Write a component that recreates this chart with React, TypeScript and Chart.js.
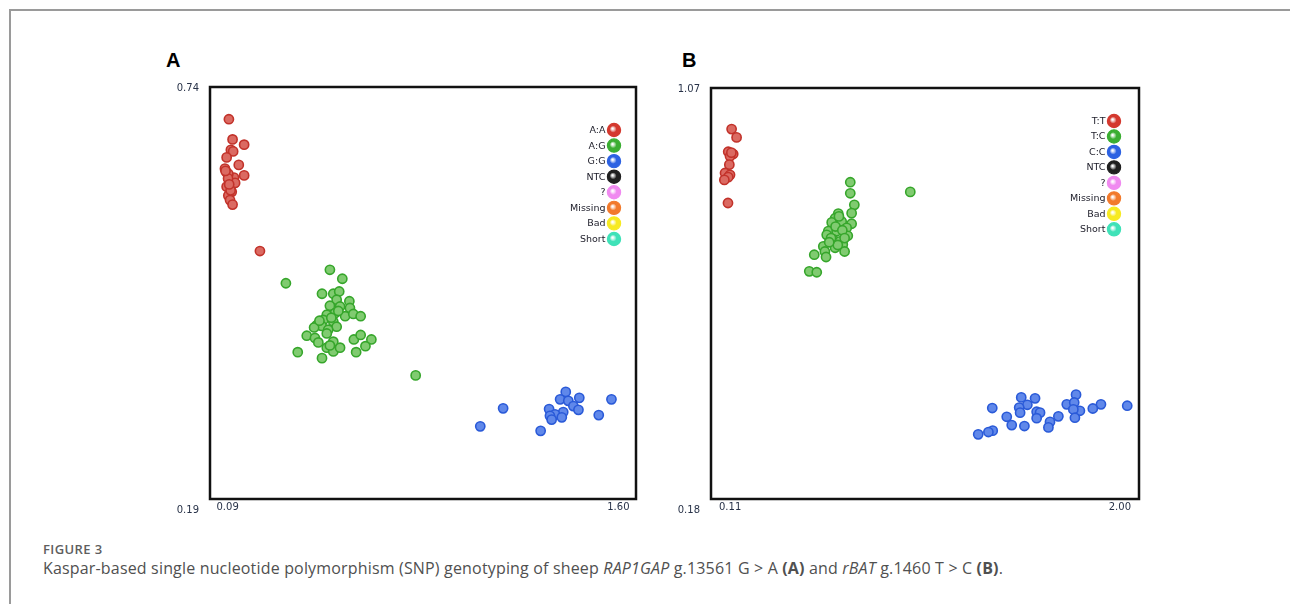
import React, { useEffect, useRef } from "react";
import { Chart, registerables } from "chart.js";

Chart.register(...registerables);

// ---------- Panel A: RAP1GAP g.13561 G > A ----------
const aXRange = [0.09, 1.6];
const aYRange = [0.19, 0.74];
const aXTickLabels = ["0.09", "1.60"];
const aYTickLabels = ["0.19", "0.74"];
const aLegendLabels = ["A:A", "A:G", "G:G", "NTC", "?", "Missing", "Bad", "Short"];

const aAA: [number, number][] = [
  [0.157, 0.697], [0.17, 0.67], [0.211, 0.663], [0.164, 0.656], [0.172, 0.654],
  [0.149, 0.646], [0.192, 0.636], [0.143, 0.631], [0.149, 0.626], [0.211, 0.622],
  [0.175, 0.619], [0.179, 0.612], [0.149, 0.607], [0.167, 0.6], [0.155, 0.595],
  [0.161, 0.589], [0.17, 0.583], [0.155, 0.624], [0.163, 0.602], [0.154, 0.618],
  [0.145, 0.628], [0.158, 0.61], [0.267, 0.521],
];
const aAG: [number, number][] = [
  [0.515, 0.496], [0.559, 0.484], [0.359, 0.478], [0.487, 0.464], [0.527, 0.464],
  [0.548, 0.467], [0.539, 0.456], [0.584, 0.454], [0.515, 0.448], [0.551, 0.447],
  [0.586, 0.445], [0.533, 0.438], [0.504, 0.436], [0.569, 0.434], [0.598, 0.437],
  [0.624, 0.434], [0.492, 0.429], [0.527, 0.427], [0.468, 0.422], [0.486, 0.421],
  [0.539, 0.42], [0.459, 0.419], [0.509, 0.416], [0.433, 0.408], [0.504, 0.411],
  [0.462, 0.405], [0.474, 0.399], [0.6, 0.403], [0.624, 0.409], [0.662, 0.403],
  [0.641, 0.394], [0.527, 0.4], [0.504, 0.392], [0.527, 0.387], [0.551, 0.392],
  [0.608, 0.386], [0.401, 0.386], [0.487, 0.378], [0.52, 0.432], [0.545, 0.441],
  [0.478, 0.428], [0.515, 0.395], [0.819, 0.355],
];
const aGG: [number, number][] = [
  [1.351, 0.333], [1.399, 0.325], [1.331, 0.323], [1.36, 0.321], [1.513, 0.323],
  [1.378, 0.314], [1.396, 0.309], [1.292, 0.31], [1.129, 0.311], [1.342, 0.306],
  [1.313, 0.303], [1.295, 0.301], [1.337, 0.299], [1.468, 0.302], [1.048, 0.287],
  [1.262, 0.281], [1.301, 0.296],
];

// ---------- Panel B: rBAT g.1460 T > C ----------
const bXRange = [0.11, 2.0];
const bYRange = [0.18, 1.07];
const bXTickLabels = ["0.11", "2.00"];
const bYTickLabels = ["0.18", "1.07"];
const bLegendLabels = ["T:T", "T:C", "C:C", "NTC", "?", "Missing", "Bad", "Short"];

const bTT: [number, number][] = [
  [0.201, 0.981], [0.223, 0.963], [0.186, 0.932], [0.208, 0.927], [0.194, 0.922],
  [0.191, 0.904], [0.172, 0.886], [0.194, 0.882], [0.186, 0.877], [0.169, 0.871],
  [0.2, 0.93], [0.185, 0.821],
];
const bTC: [number, number][] = [
  [0.725, 0.866], [0.725, 0.842], [0.99, 0.845], [0.743, 0.817], [0.731, 0.799],
  [0.672, 0.798], [0.658, 0.788], [0.687, 0.781], [0.731, 0.776], [0.643, 0.779],
  [0.709, 0.767], [0.628, 0.76], [0.665, 0.76], [0.621, 0.752], [0.714, 0.75],
  [0.65, 0.742], [0.68, 0.738], [0.606, 0.727], [0.658, 0.724], [0.692, 0.731],
  [0.613, 0.716], [0.7, 0.716], [0.566, 0.709], [0.618, 0.704], [0.66, 0.77],
  [0.69, 0.762], [0.64, 0.745], [0.7, 0.745], [0.67, 0.73], [0.632, 0.736],
  [0.675, 0.792], [0.544, 0.673], [0.577, 0.671],
];
const bCC: [number, number][] = [
  [1.48, 0.4], [1.541, 0.398], [1.722, 0.406], [1.507, 0.384], [1.681, 0.385],
  [1.714, 0.389], [1.832, 0.385], [1.948, 0.382], [1.352, 0.377], [1.471, 0.378],
  [1.796, 0.376], [1.548, 0.369], [1.563, 0.367], [1.475, 0.367], [1.739, 0.371],
  [1.71, 0.374], [1.644, 0.359], [1.416, 0.358], [1.548, 0.355], [1.717, 0.356],
  [1.607, 0.347], [1.438, 0.34], [1.494, 0.338], [1.6, 0.335], [1.354, 0.328],
  [1.335, 0.325], [1.29, 0.32],
];

// legend swatch colours (shared)
const legendColors = ["#d4392f", "#3bae32", "#2d62e2", "#202020", "#f08af0", "#f27a2c", "#f7ea22", "#3fe2b8"];
const pointFills = ["#db6a62", "#80cb70", "#6088ea"];
const pointBorders = ["#c2322a", "#36a62b", "#2a5ad8"];

const kaspPlugin = {
  id: "kaspFrame",
  afterDatasetsDraw(chart: any, _args: any, opts: any) {
    const { ctx, chartArea: a, scales } = chart;
    const xs = scales.x;
    const ys = scales.y;
    ctx.save();
    // frame
    ctx.strokeStyle = "#111";
    ctx.lineWidth = 2.5;
    ctx.strokeRect(a.left, a.top, a.right - a.left, a.bottom - a.top);
    // tick labels
    ctx.font = "10px 'DejaVu Sans'";
    ctx.fillStyle = "#283248";
    ctx.textBaseline = "middle";
    ctx.textAlign = "right";
    ctx.fillText(opts.yLabels[1], a.left - 11, ys.getPixelForValue(ys.max) + 1);
    ctx.fillText(opts.yLabels[0], a.left - 11, ys.getPixelForValue(ys.min) + 11);
    ctx.textAlign = "left";
    ctx.fillText(opts.xLabels[0], xs.getPixelForValue(xs.min) + opts.xInset, a.bottom + 8.5);
    ctx.textAlign = "right";
    ctx.fillText(opts.xLabels[1], xs.getPixelForValue(xs.max) - opts.xInset, a.bottom + 8.5);
    // legend
    ctx.font = "9.5px 'DejaVu Sans'";
    opts.legend.forEach((label: string, i: number) => {
      const cx = a.right - opts.legendRight;
      const cy = a.top + opts.legendTop + i * opts.legendStep;
      const c = legendColors[i];
      const g = ctx.createRadialGradient(cx - 1.5, cy - 1.5, 0.5, cx, cy, 7);
      g.addColorStop(0, "rgba(255,255,255,0.7)");
      g.addColorStop(0.45, c);
      g.addColorStop(1, c);
      ctx.beginPath();
      ctx.arc(cx, cy, 6.6, 0, Math.PI * 2);
      ctx.fillStyle = g;
      ctx.fill();
      ctx.lineWidth = 1.2;
      ctx.strokeStyle = c;
      ctx.stroke();
      ctx.fillStyle = "#1c1c28";
      ctx.textAlign = "right";
      ctx.textBaseline = "middle";
      ctx.fillText(label, cx - 8.5, cy + 0.5);
    });
    ctx.restore();
  },
};

function makeDatasets(groups: [number, number][][], labels: string[]) {
  return groups.map((g, i) => ({
    label: labels[i],
    data: g.map(([x, y]) => ({ x, y })),
    pointRadius: 4.6,
    pointBorderWidth: 1.6,
    pointBackgroundColor: pointFills[i],
    pointBorderColor: pointBorders[i],
    showLine: false,
  }));
}

type PanelProps = {
  groups: [number, number][][];
  labels: string[];
  xRange: number[];
  yRange: number[];
  xTicks: string[];
  yTicks: string[];
  padding: { left: number; top: number; right: number; bottom: number };
  legendRight: number;
  legendTop: number;
  legendStep: number;
  xInset: number;
  style: React.CSSProperties;
};

function Panel(p: PanelProps) {
  const ref = useRef<HTMLCanvasElement | null>(null);
  useEffect(() => {
    if (!ref.current) return;
    const chart = new Chart(ref.current, {
      type: "scatter",
      data: { datasets: makeDatasets(p.groups, p.labels) as any },
      options: {
        animation: false,
        responsive: false,
        devicePixelRatio: 1,
        layout: { padding: p.padding },
        scales: {
          x: { type: "linear", min: p.xRange[0], max: p.xRange[1], display: false },
          y: { type: "linear", min: p.yRange[0], max: p.yRange[1], display: false },
        },
        plugins: {
          legend: { display: false },
          tooltip: { enabled: false },
          kaspFrame: {
            xLabels: p.xTicks,
            yLabels: p.yTicks,
            legend: p.labels,
            legendRight: p.legendRight,
            legendTop: p.legendTop,
            legendStep: p.legendStep,
            xInset: p.xInset,
          },
        } as any,
      },
      plugins: [kaspPlugin as any],
    });
    return () => chart.destroy();
  }, []);
  return <canvas ref={ref} width={500} height={480} style={{ position: "absolute", width: 500, height: 480, ...p.style }} />;
}

export default function App() {
  return (
    <div style={{ position: "fixed", left: 0, top: 0, width: 1290, height: 604, background: "#fff", overflow: "hidden" }}>
      <div
        style={{
          position: "absolute",
          left: 9,
          top: 9,
          width: 1320,
          height: 640,
          border: "2px solid #9a9a9a",
          boxSizing: "border-box",
        }}
      />
      <div style={{ position: "absolute", left: 166, top: 50, font: "bold 20px 'Liberation Sans', Arial, sans-serif", lineHeight: "20px", color: "#000" }}>A</div>
      <div style={{ position: "absolute", left: 682, top: 50, font: "bold 20px 'Liberation Sans', Arial, sans-serif", lineHeight: "20px", color: "#000" }}>B</div>
      <Panel
        groups={[aAA, aAG, aGG]}
        labels={aLegendLabels}
        xRange={aXRange}
        yRange={aYRange}
        xTicks={aXTickLabels}
        yTicks={aYTickLabels}
        padding={{ left: 60, top: 47, right: 14, bottom: 21 }}
        legendRight={22}
        legendTop={43}
        legendStep={15.57}
        xInset={6.5}
        style={{ left: 150, top: 40 }}
      />
      <Panel
        groups={[bTT, bTC, bCC]}
        labels={bLegendLabels}
        xRange={bXRange}
        yRange={bYRange}
        xTicks={bXTickLabels}
        yTicks={bYTickLabels}
        padding={{ left: 51, top: 48, right: 21, bottom: 21 }}
        legendRight={25}
        legendTop={33}
        legendStep={15.47}
        xInset={8}
        style={{ left: 660, top: 40 }}
      />
      <div style={{ position: "absolute", left: 43, top: 543, font: "600 13px 'Open Sans', sans-serif", lineHeight: "13px", letterSpacing: "0.4px", color: "#5e5e5e" }}>FIGURE 3</div>
      <div style={{ position: "absolute", left: 43, top: 560, font: "16px 'Open Sans', sans-serif", lineHeight: "16px", letterSpacing: "0.17px", color: "#505050", whiteSpace: "nowrap" }}>
        Kaspar-based single nucleotide polymorphism (SNP) genotyping of sheep <i>RAP1GAP</i> g.13561 G &gt; A <b>(A)</b> and{" "}
        <i>rBAT</i> g.1460 T &gt; C <b>(B)</b>.
      </div>
    </div>
  );
}
